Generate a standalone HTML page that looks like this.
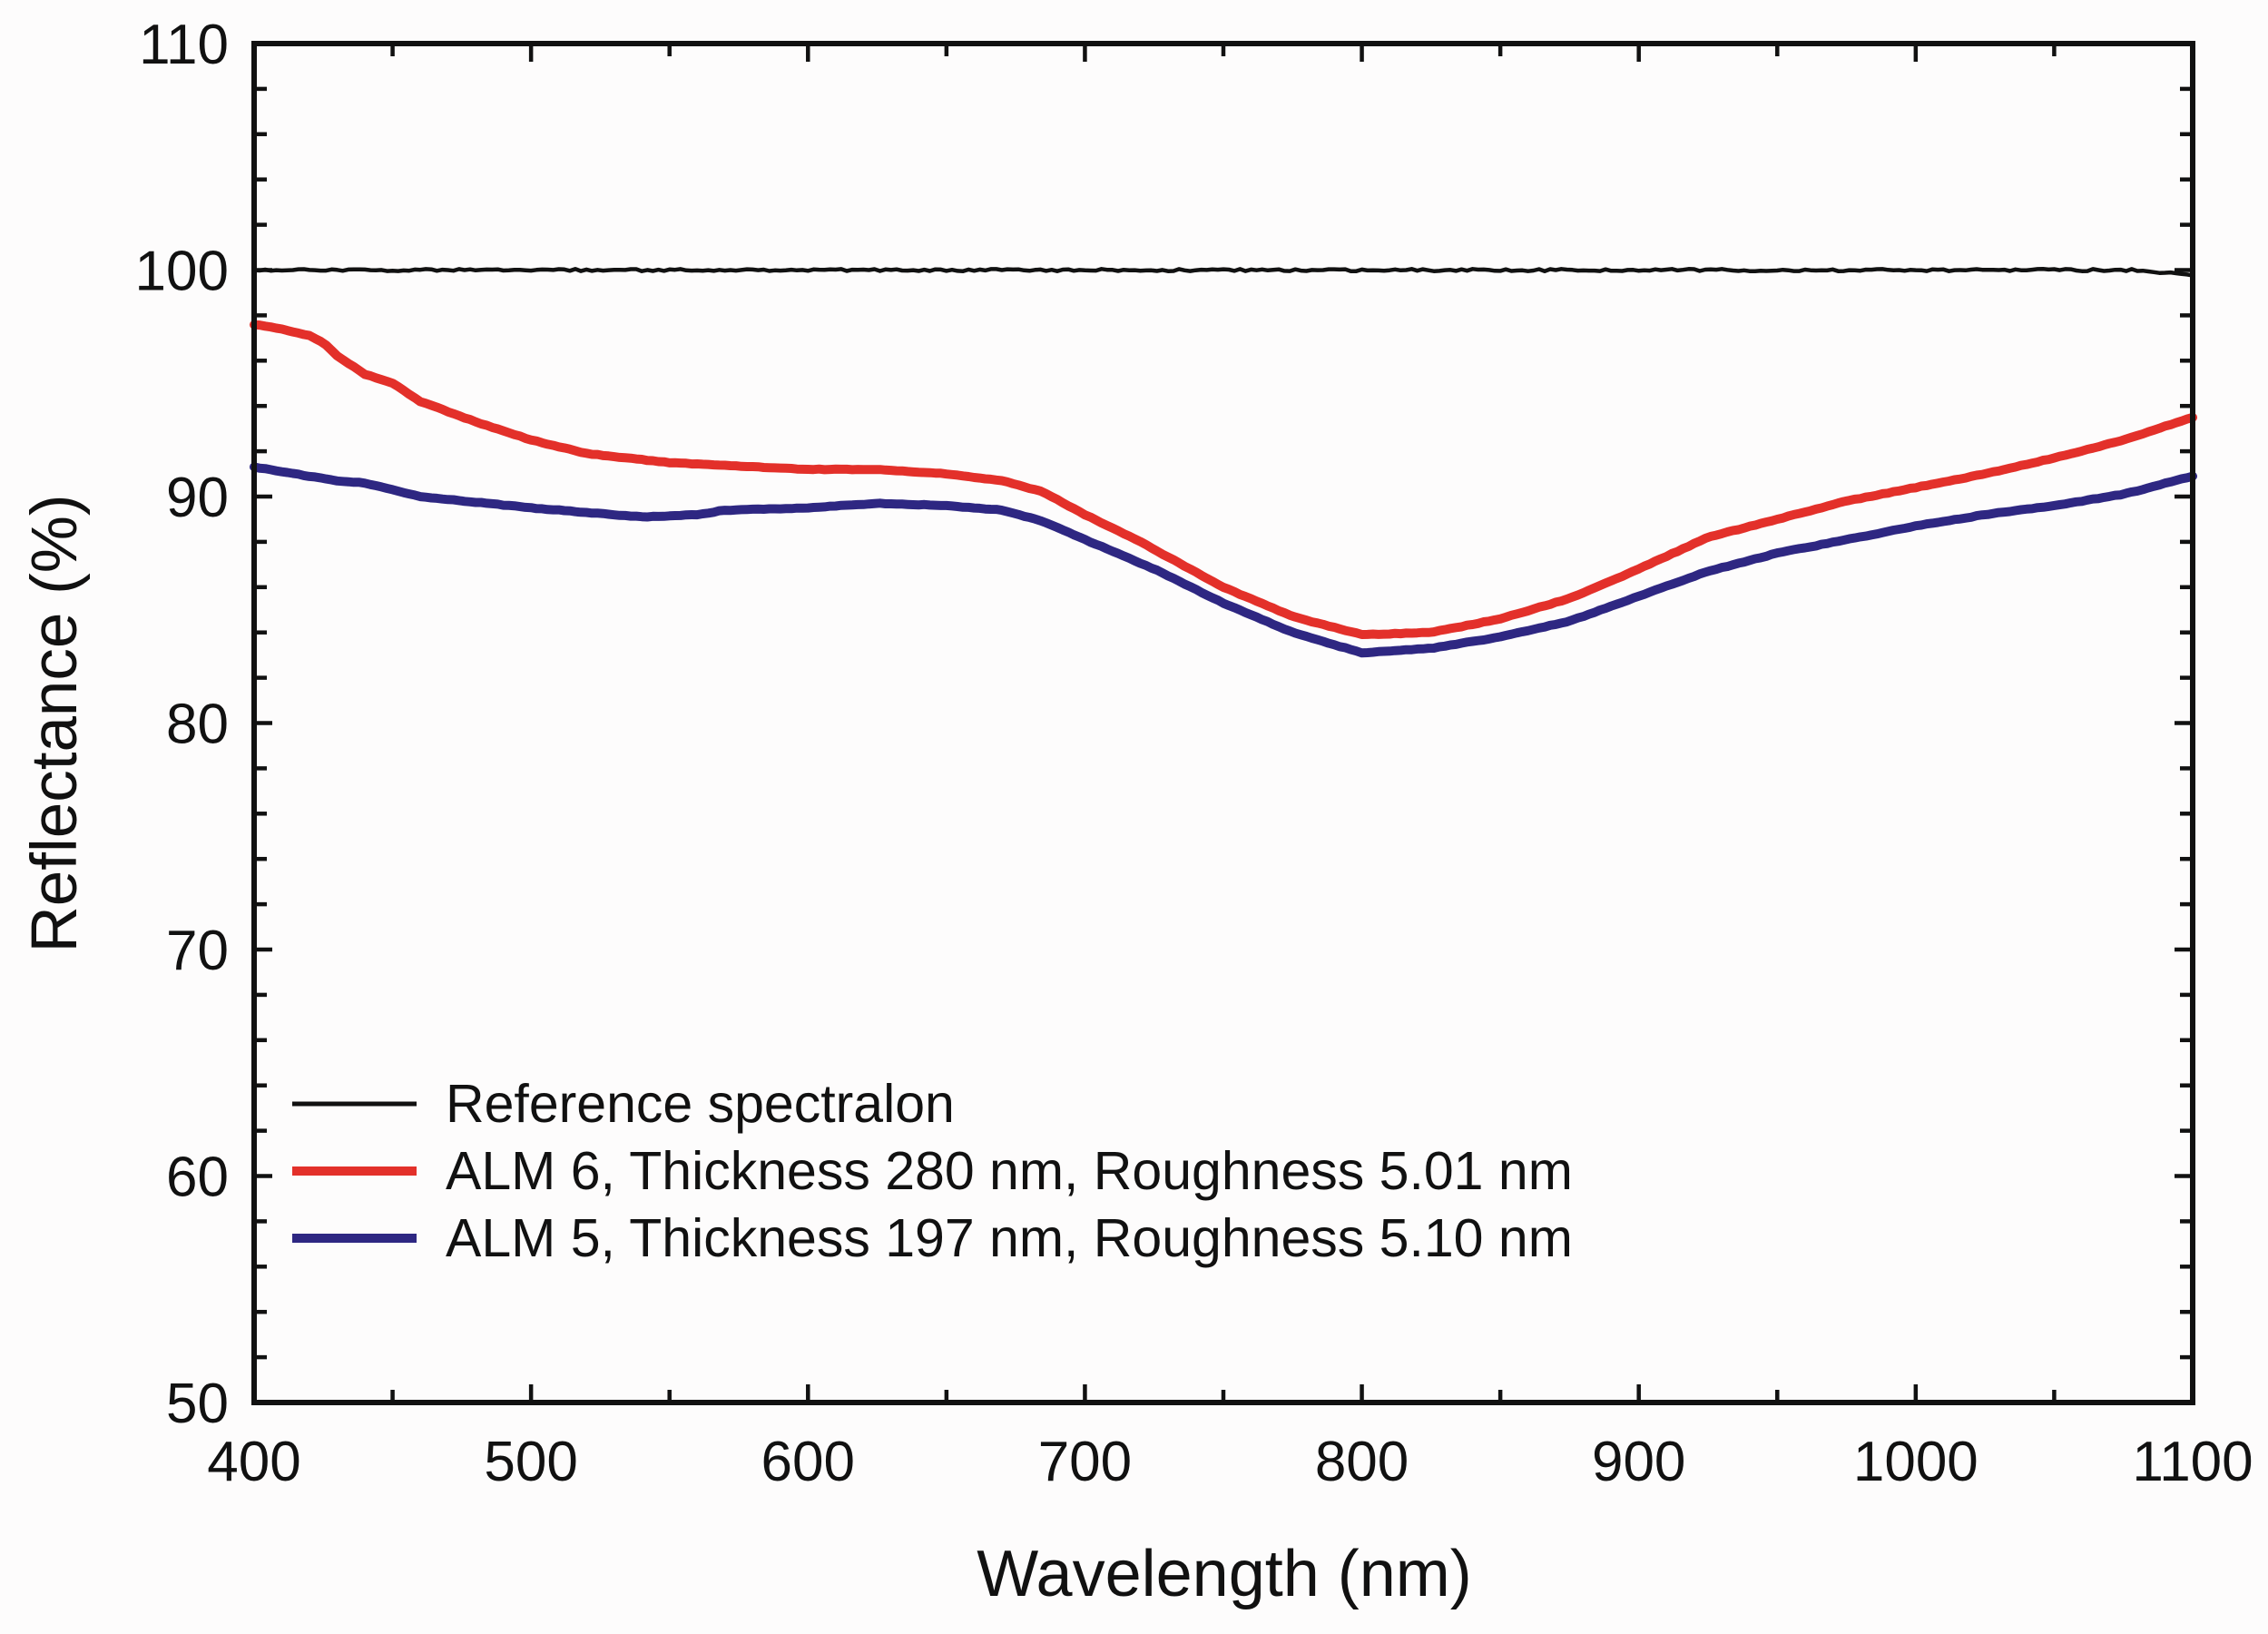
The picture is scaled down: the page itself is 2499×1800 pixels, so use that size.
<!DOCTYPE html>
<html><head><meta charset="utf-8">
<style>
html,body{margin:0;padding:0;background:#fdfcfc;}
svg{display:block;}
text{font-family:"Liberation Sans",Arial,sans-serif;fill:#111;}
</style></head>
<body>
<svg id="s" width="2499" height="1800" viewBox="0 0 2499 1800" xmlns="http://www.w3.org/2000/svg">
<rect width="2499" height="1800" fill="#fdfcfc"/>
<g id="ticks" stroke="#111" stroke-width="4.5"></g>
<g id="series" fill="none" stroke-linejoin="round" stroke-linecap="round"></g>
<rect x="280" y="48" width="2136" height="1497" fill="none" stroke="#111" stroke-width="6"/>
<g id="labels" font-size="62"></g>
<text x="1349" y="1758" font-size="72" text-anchor="middle">Wavelength (nm)</text>
<text transform="translate(84,797) rotate(-90)" font-size="71" text-anchor="middle">Reflectance (%)</text>
<g font-size="59">
<line x1="322" y1="1216" x2="459" y2="1216" stroke="#111" stroke-width="5"/>
<line x1="322" y1="1290" x2="459" y2="1290" stroke="#e3302a" stroke-width="10"/>
<line x1="322" y1="1364" x2="459" y2="1364" stroke="#2e2782" stroke-width="10"/>
<text x="491" y="1236">Reference spectralon</text>
<text x="491" y="1310">ALM 6, Thickness 280 nm, Roughness 5.01 nm</text>
<text x="491" y="1384">ALM 5, Thickness 197 nm, Roughness 5.10 nm</text>
</g>
</svg>
<script>
var NS="http://www.w3.org/2000/svg";
function X(w){return 280+(w-400)*3.0514;}
function Y(r){return 48+(110-r)*24.95;}
function el(p,t,a,txt){var e=document.createElementNS(NS,t);for(var k in a)e.setAttribute(k,a[k]);if(txt!=null)e.textContent=txt;p.appendChild(e);return e;}
var tk=document.getElementById('ticks'),lb=document.getElementById('labels');
for(var w=400;w<=1100;w+=50){var L=(w%100==0)?20:14;var x=X(w);
 el(tk,'line',{x1:x,y1:1545,x2:x,y2:1545-L});el(tk,'line',{x1:x,y1:48,x2:x,y2:48+L});
 if(w%100==0)el(lb,'text',{x:x,y:1631,'text-anchor':'middle'},w);}
for(var r=50;r<=110;r+=2){var L=(r%10==0)?20:14;var y=Y(r);
 el(tk,'line',{x1:280,y1:y,x2:280+L,y2:y});el(tk,'line',{x1:2416,y1:y,x2:2416-L,y2:y});
 if(r%10==0)el(lb,'text',{x:252,y:y+22,'text-anchor':'end'},r);}
var red=[[400,97.6],[410,97.4],[420,97.1],[425,96.8],[430,96.2],[440,95.4],[450,95.0],[460,94.2],[480,93.3],[500,92.5],[520,91.9],[550,91.5],[600,91.2],[625,91.2],[650,91.0],[670,90.7],[685,90.2],[700,89.2],[720,88.0],[750,86.0],[775,84.7],[800,83.9],[825,84.0],[850,84.6],[875,85.5],[900,86.8],[925,88.2],[950,89.0],[975,89.8],[1000,90.4],[1025,91.0],[1050,91.7],[1075,92.5],[1100,93.5]];
var blue=[[400,91.3],[430,90.7],[440,90.6],[460,90.0],[500,89.5],[540,89.1],[560,89.2],[570,89.4],[600,89.5],[625,89.7],[650,89.6],[670,89.4],[685,88.9],[700,88.1],[725,86.8],[750,85.3],[775,84.0],[800,83.1],[825,83.3],[850,83.8],[875,84.5],[900,85.6],[925,86.7],[950,87.5],[975,88.1],[1000,88.7],[1025,89.2],[1050,89.6],[1075,90.1],[1100,90.9]];
function interp(d,w){for(var i=0;i<d.length-1;i++){if(w<=d[i+1][0]){var t=(w-d[i][0])/(d[i+1][0]-d[i][0]);return d[i][1]+t*(d[i+1][1]-d[i][1]);}}return d[d.length-1][1];}
function path(f,noise){var s="";for(var w=400;w<=1100;w+=2){var v=f(w)+(Math.random()-0.5)*noise;s+=(w==400?"M":"L")+X(w).toFixed(1)+","+Y(v).toFixed(1);}return s;}
var g=document.getElementById('series');
el(g,'path',{d:path(function(w){return w>1080?100-(w-1080)*0.01:100;},0.1),stroke:'#111','stroke-width':4.5});
el(g,'path',{d:path(function(w){return interp(red,w);},0.03),stroke:'#e3302a','stroke-width':10});
el(g,'path',{d:path(function(w){return interp(blue,w);},0.03),stroke:'#2e2782','stroke-width':10});
</script>
</body></html>
